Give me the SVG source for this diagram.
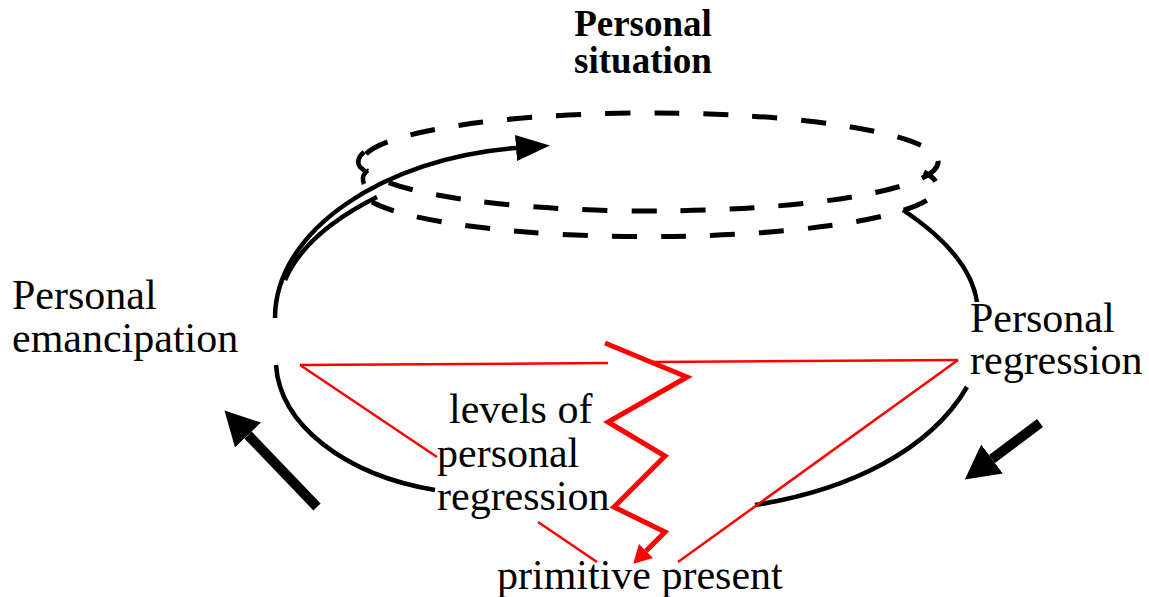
<svg xmlns="http://www.w3.org/2000/svg" width="1149" height="597" viewBox="0 0 1149 597">
<style>
.lbl{font-family:"Liberation Serif","Times New Roman",serif;font-size:42px;fill:#000}
.ttl{font-family:"Liberation Serif","Times New Roman",serif;font-size:37px;font-weight:bold;fill:#000}
.dash{fill:none;stroke:#000;stroke-width:5;stroke-dasharray:25 24}
.blk{fill:none;stroke:#000;stroke-width:4.5}
.red{fill:none;stroke:#ff0000;stroke-width:2.5}
.zig{fill:none;stroke:#ff0000;stroke-width:5;stroke-linejoin:miter}
.big{stroke:#000;stroke-width:10}
</style>
<defs>
<marker id="ahB" markerWidth="34" markerHeight="26" refX="0" refY="13" orient="auto" markerUnits="userSpaceOnUse"><path d="M0,0 L34,13 L0,26 z" fill="#000"/></marker>
<marker id="ahBig" markerWidth="34" markerHeight="36" refX="0" refY="18" orient="auto" markerUnits="userSpaceOnUse"><path d="M0,0 L34,18 L0,36 z" fill="#000"/></marker>
<marker id="ahR" markerWidth="18" markerHeight="20" refX="0" refY="10" orient="auto" markerUnits="userSpaceOnUse"><path d="M0,0 L18,10 L0,20 z" fill="#ff0000"/></marker>
</defs>
<g id="connectors">
  <!-- dashed personal situation ellipses -->
  <path class="dash" d="M366,154 A288,49 0 1 1 366,170"/>
  <path class="blk" d="M364,152 Q355,160 360,167 L366,172 Q361,177 364,184"/>
  <path class="dash" d="M924,172 A286,49 0 1 1 372,202" stroke-dashoffset="10"/>
  <!-- black loop -->
  <path class="blk" d="M275,318 C275,230 385,158 516,148" marker-end="url(#ahB)"/>
  <path class="blk" d="M285,280 C300,245 335,218 377,197"/>
  <path class="blk" d="M276,365 C280,425 345,475 435,490"/>
  <path class="blk" d="M755,505 C850,490 930,450 967,387"/>
  <path class="blk" d="M903,210 C945,238 972,268 977,302"/>
  <!-- big direction arrows -->
  <line class="big" x1="317" y1="507" x2="248" y2="435" marker-end="url(#ahBig)"/>
  <line class="big" x1="1040" y1="423" x2="992" y2="459" marker-end="url(#ahBig)"/>
  <!-- red lines -->
  <path class="red" d="M300,365 L608,363 M653,362 L958,360"/>
  <path class="red" d="M300,365 L437,457 M538,522 L597,562"/>
  <path class="red" d="M958,360 L678,562"/>
  <polyline class="zig" points="605,343 687,377 608,422 665,456 614,507 665,532 646,551" marker-end="url(#ahR)"/>
</g>
<g id="node-situation"><text class="ttl" text-anchor="middle" x="643" y="36">Personal</text><text class="ttl" text-anchor="middle" x="643" y="73">situation</text></g>
<g id="node-emancipation"><text class="lbl" x="12" y="309">Personal</text><text class="lbl" x="12" y="352">emancipation</text></g>
<g id="node-regression"><text class="lbl" x="970" y="332">Personal</text><text class="lbl" x="970" y="374">regression</text></g>
<g id="node-levels"><text class="lbl" x="449" y="423">levels of</text><text class="lbl" x="437" y="467">personal</text><text class="lbl" x="437" y="510">regression</text></g>
<g id="node-primitive"><text class="lbl" x="497" y="589">primitive present</text></g>
</svg>
